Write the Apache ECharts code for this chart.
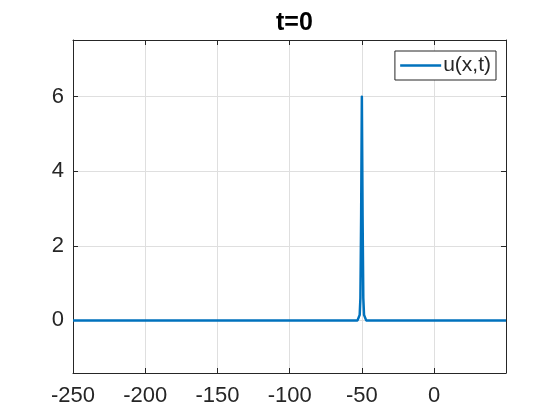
<!DOCTYPE html>
<html>
<head>
<meta charset="utf-8">
<script src="https://cdn.jsdelivr.net/npm/echarts@6/dist/echarts.min.js"></script>
<style>html,body{margin:0;padding:0;background:#fff}#c{width:560px;height:420px}</style>
</head>
<body>
<div id="c"></div>
<script>
// x positions and u(x,t) values
var xVals = [-250, -200, -150, -100, -53, -51.5, -51, -50.5, -50, -49.5, -49, -48.5, -47, 0, 49.8];
var uVals = [0, 0, 0, 0, 0, 0.15, 0.6, 2.8, 6, 2.8, 0.6, 0.15, 0, 0, 0];
var xTicks = [-250, -200, -150, -100, -50, 0];
var yTicks = [0, 2, 4, 6];
var titleText = 't=0';
var seriesName = 'u(x,t)';

var FONT = 'Liberation Sans, Arial, Helvetica, sans-serif';
var AX = '#262626';
var GRID = '#dfdfdf';

var pts = xVals.map(function (x, i) { return [x, uVals[i]]; });

var chart = echarts.init(document.getElementById('c'), null, {renderer: 'canvas'});
chart.setOption({
  animation: false,
  backgroundColor: '#fff',
  title: {
    text: titleText, left: 271, top: 6,
    textStyle: {fontFamily: FONT, fontWeight: 'bold', fontSize: 25, color: '#000'}
  },
  grid: {left: 73, right: 54, top: 40, bottom: 47, containLabel: false},
  legend: {
    data: [seriesName], right: 64, top: 51,
    orient: 'vertical',
    padding: [4, 5, 4, 4],
    itemWidth: 41, itemHeight: 14,
    borderColor: AX, borderWidth: 1, borderRadius: 0,
    backgroundColor: '#fff',
    textStyle: {fontFamily: FONT, fontSize: 21, color: AX, padding: [0, 0, 0, -3]},
    itemStyle: {opacity: 0},
    lineStyle: {width: 2.5}
  },
  xAxis: [{
    type: 'value', min: -250, max: 49.8, position: 'bottom',
    axisLine: {show: true, onZero: false, lineStyle: {color: AX, width: 1}},
    axisTick: {show: true, inside: true, length: 5, customValues: xTicks, lineStyle: {color: AX}},
    axisLabel: {show: true, customValues: xTicks, margin: 12, fontFamily: FONT, fontSize: 22, color: AX},
    splitLine: {show: true, lineStyle: {color: GRID, width: 1}}
  }, {
    type: 'value', min: -250, max: 49.8, position: 'top',
    axisLine: {show: true, onZero: false, lineStyle: {color: AX, width: 1}},
    axisTick: {show: true, inside: true, length: 5, customValues: xTicks, lineStyle: {color: AX}},
    axisLabel: {show: false},
    splitLine: {show: false}
  }],
  yAxis: [{
    type: 'value', min: -1.41, max: 7.52, position: 'left',
    axisLine: {show: true, onZero: false, lineStyle: {color: AX, width: 1}},
    axisTick: {show: true, inside: true, length: 5, customValues: yTicks, lineStyle: {color: AX}},
    axisLabel: {show: true, customValues: yTicks, margin: 9, fontFamily: FONT, fontSize: 22, color: AX},
    splitLine: {show: true, lineStyle: {color: GRID, width: 1}}
  }, {
    type: 'value', min: -1.41, max: 7.52, position: 'right',
    axisLine: {show: true, onZero: false, lineStyle: {color: AX, width: 1}},
    axisTick: {show: true, inside: true, length: 5, customValues: yTicks, lineStyle: {color: AX}},
    axisLabel: {show: false},
    splitLine: {show: false}
  }],
  series: [{
    name: seriesName, type: 'line', data: pts,
    xAxisIndex: 0, yAxisIndex: 0,
    showSymbol: false, symbol: 'none', smooth: false,
    lineStyle: {color: '#0072BD', width: 2.5, join: 'round'},
    itemStyle: {color: '#0072BD'},
    z: 3
  }]
});
</script>
</body>
</html>
